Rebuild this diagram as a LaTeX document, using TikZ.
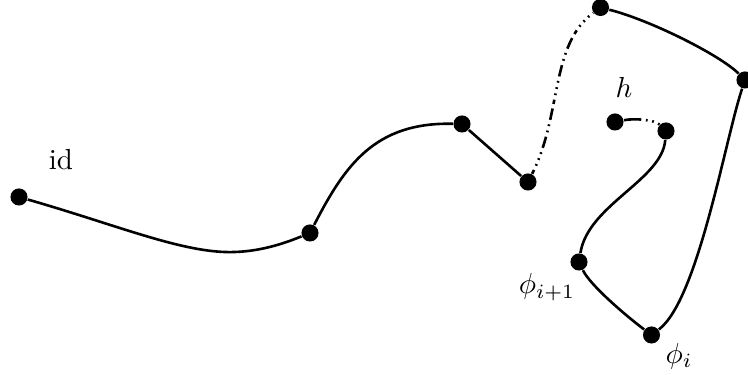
\documentclass[tikz,border=0pt]{standalone}
\begin{document}
\begin{tikzpicture}[x=0.345pt,y=-0.345pt,
  dot/.style={circle,fill=black,inner sep=0pt,minimum size=5.9pt},
  link/.style={line width=0.9pt},
  dashdots/.style={link,dash pattern=on 1.5pt off 1.6pt on 0.6pt off 1.6pt on 0.6pt off 1.6pt on 0.6pt off 1.6pt on 4pt off 1.6pt on 0.6pt off 1.6pt on 0.6pt off 1.6pt on 4pt off 1.6pt},
  dotsend/.style={link,dash pattern=on 6pt off 1.6pt on 0.6pt off 1.6pt on 0.6pt off 1.6pt on 0.6pt off 1.6pt on 0.6pt off 20pt},
  lbl/.style={inner sep=0pt}]
\useasboundingbox (0,0) rectangle (748,375);
% points
\node[dot] (A) at (19,197) {};
\node[dot] (B) at (310,233) {};
\node[dot] (C) at (462,124) {};
\node[dot] (D) at (528,182) {};
\node[dot] (E) at (600.5,7.5) {};
\node[dot] (F) at (745,80) {};
\node[dot] (G) at (651.5,335) {};
\node[dot] (H) at (579,262) {};
\node[dot] (I) at (666,131) {};
\node[dot] (J) at (615,122) {};
\coordinate (ab) at (235,252);
% labels
\node[lbl] (lid) at (61,160) {id};
\node[lbl] (lh) at (624,87) {$h$};
\node[lbl] (lphi1) at (547,287) {$\phi_{i+1}$};
\node[lbl] (lphi) at (679,356) {$\phi_i$};
% connectors
\draw[link] (A) .. controls (120,226) and (185,254) .. (ab) .. controls (265,251) and (290,241) .. (B);
\draw[link] (B) .. controls (345,165) and (375,122) .. (C);
\draw[link] (C) -- (D);
\draw[dashdots] (D) .. controls (562,115) and (550,45) .. (E);
\draw[link] (E) .. controls (650,20) and (720,55) .. (F);
\draw[link] (F) .. controls (725,140) and (698,300) .. (G);
\draw[link] (G) .. controls (625,315) and (590,285) .. (H);
\draw[link] (H) .. controls (588,205) and (662,180) .. (I);
\draw[dotsend] (J) .. controls (635,118) and (655,120) .. (I);
\end{tikzpicture}
\end{document}
